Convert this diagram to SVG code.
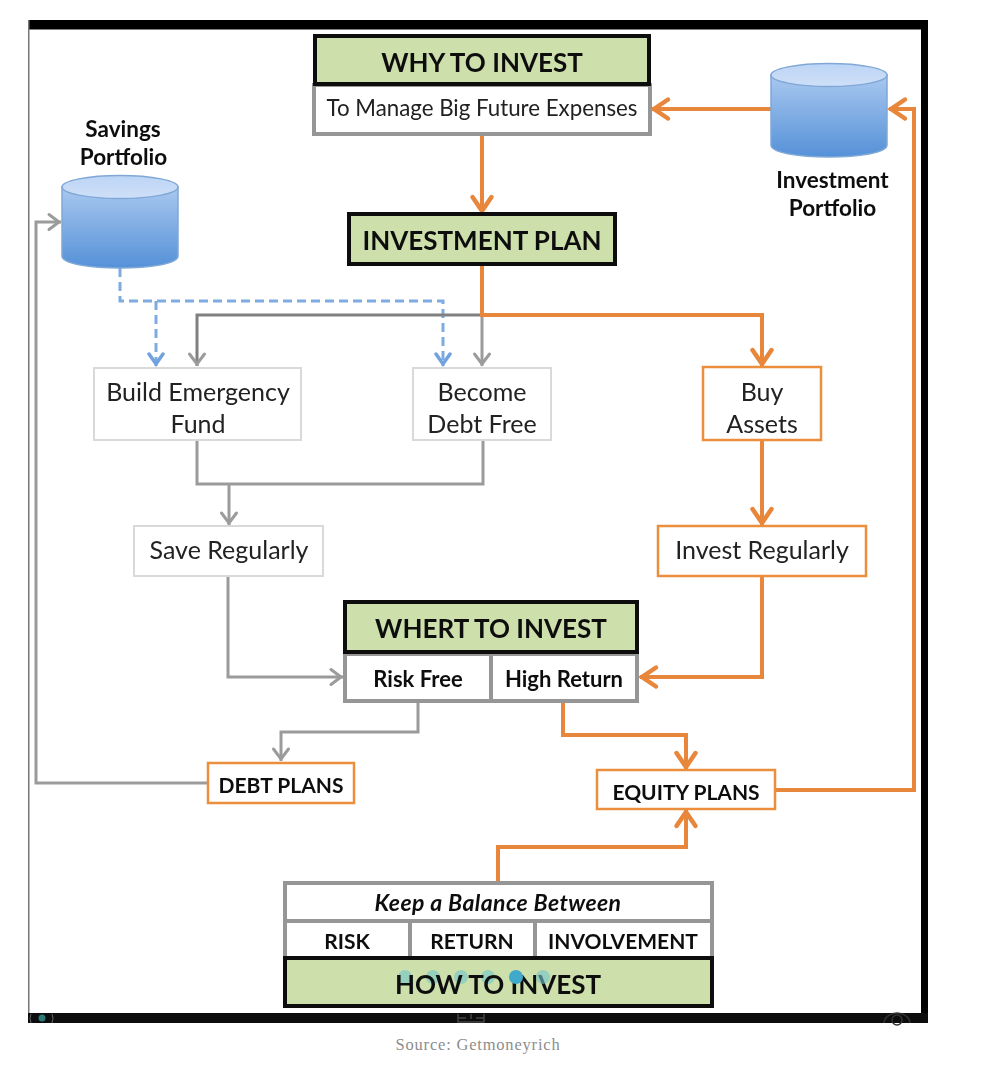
<svg xmlns="http://www.w3.org/2000/svg" width="1005" height="1080" viewBox="0 0 1005 1080">
<style>
text{font-family:Lato,"Open Sans","Liberation Sans",sans-serif;fill:#111;text-anchor:middle}
.h{font-size:26px;font-weight:700}
.b{font-size:21px;font-weight:700}
.b2{font-size:22px;font-weight:700}
.p{font-size:22.500px;font-weight:700}
.i{font-size:23px;font-weight:700;font-style:italic;letter-spacing:.4px}
.r{font-size:25px;fill:#222}
.r2{font-size:22.300px;fill:#222}
.g{fill:#cde0ab;stroke:#0a0a0a;stroke-width:4}
.w{fill:#fff;stroke:#969696;stroke-width:4}
.lg{fill:#fff;stroke:#d9d9d9;stroke-width:2}
.o{fill:#fff;stroke:#ec8f3e;stroke-width:2.500}
.c{fill:none}
.co{stroke:#e8873a;stroke-width:4}
.cg{stroke:#9b9b9b;stroke-width:3}
.cd{stroke:#808080;stroke-width:3}
.cb{stroke:#7fabdf;stroke-width:3;stroke-dasharray:9 5}
.cyl{stroke:#7fa8d6;stroke-width:1.500}
</style>
<defs>
<filter id="soft" filterUnits="userSpaceOnUse" x="0" y="0" width="1005" height="1080"><feGaussianBlur stdDeviation="0.5"/></filter>
<linearGradient id="cylBody" x1="0" y1="0" x2="0" y2="1"><stop offset="0" stop-color="#a9c8ef"/><stop offset="1" stop-color="#5591d8"/></linearGradient>
<linearGradient id="cylTop" x1="0" y1="0" x2="0" y2="1"><stop offset="0" stop-color="#bcd5f5"/><stop offset="1" stop-color="#cfe0f8"/></linearGradient>
<marker id="ao" markerUnits="userSpaceOnUse" markerWidth="26" markerHeight="28" refX="22" refY="14" orient="auto"><path d="M6 4.500L20 14L6 23.500" fill="none" stroke="#e8873a" stroke-width="4.500" stroke-linecap="round"/></marker>
<marker id="ag" markerUnits="userSpaceOnUse" markerWidth="20" markerHeight="24" refX="18" refY="12" orient="auto"><path d="M6 4.500L16 12L6 19.500" fill="none" stroke="#9b9b9b" stroke-width="3" stroke-linecap="round"/></marker>
<marker id="ab" markerUnits="userSpaceOnUse" markerWidth="20" markerHeight="24" refX="18" refY="12" orient="auto"><path d="M6 5L16 12L6 19" fill="none" stroke="#6fa3de" stroke-width="3.500" stroke-linecap="round"/></marker>
</defs>
<rect width="1005" height="1080" fill="#fff"/>
<g id="diagram" filter="url(#soft)">
<g id="frame">
<rect x="28" y="20" width="900" height="9.500" fill="#000"/>
<rect x="921" y="20" width="7" height="1003" fill="#000"/>
<rect x="28" y="20" width="1.500" height="1003" fill="#777"/>
<rect x="28" y="1013" width="900" height="10" fill="#0c0c0c"/>
<ellipse cx="42" cy="1018" rx="3.500" ry="3.500" fill="#2c7a78"/>
<path d="M31 1014Q29 1018 31 1023M52 1014Q54 1018 52 1023" fill="none" stroke="#666" stroke-width="1"/>
<path d="M458 1014V1022H484V1014M466 1018H458M476 1018H484M471 1014V1019" fill="none" stroke="#444" stroke-width="1.500"/>
<circle cx="897" cy="1020" r="5" fill="none" stroke="#333" stroke-width="1.500"/>
<path d="M884 1023Q885 1014 897 1013Q909 1014 910 1023" fill="none" stroke="#333" stroke-width="1.500"/>
</g>
<g id="connectors">
<path class="c co" d="M482 135V213" marker-end="url(#ao)"/>
<path class="c co" d="M771 109H652" marker-end="url(#ao)"/>
<path class="c cb" d="M120 268V301H443V366" marker-end="url(#ab)"/>
<path class="c cb" d="M156 301V366" marker-end="url(#ab)"/>
<path class="c cd" d="M482 315H197V366" marker-end="url(#ag)"/>
<path class="c cg" d="M482 315V366" marker-end="url(#ag)"/>
<path class="c co" d="M482 264V315H762V366" marker-end="url(#ao)"/>
<path class="c cg" d="M197 440V484H483V440"/>
<path class="c cg" d="M229 484V525" marker-end="url(#ag)"/>
<path class="c co" d="M762 440V525" marker-end="url(#ao)"/>
<path class="c cg" d="M228 576V677H343" marker-end="url(#ag)"/>
<path class="c co" d="M762 576V677H640" marker-end="url(#ao)"/>
<path class="c cg" d="M418 702V732H281V761" marker-end="url(#ag)"/>
<path class="c co" d="M563 702V735H686V769" marker-end="url(#ao)"/>
<path class="c cg" d="M208 783H36V222H61" marker-end="url(#ag)"/>
<path class="c co" d="M775 790H914V109H889" marker-end="url(#ao)"/>
<path class="c co" d="M498 882V847H686V810" marker-end="url(#ao)"/>
</g>
<g id="savings-portfolio">
<path class="cyl" d="M62 187V256C62 272 178 272 178 256V187Z" fill="url(#cylBody)"/>
<ellipse class="cyl" cx="120" cy="187" rx="58" ry="11.500" fill="url(#cylTop)"/>
<text class="p" x="123" y="137">Savings</text><text class="p" x="123.500" y="165">Portfolio</text>
</g>
<g id="investment-portfolio">
<path class="cyl" d="M771 75V145C771 161 887 161 887 145V75Z" fill="url(#cylBody)"/>
<ellipse class="cyl" cx="829" cy="75" rx="58" ry="11.500" fill="url(#cylTop)"/>
<text class="p" x="832.500" y="188">Investment</text><text class="p" x="832.500" y="216">Portfolio</text>
</g>
<g id="why-to-invest">
<rect class="w" x="314" y="85" width="336" height="49"/>
<rect class="g" x="315" y="36" width="334" height="48"/>
<text class="h" x="482" y="72">WHY TO INVEST</text>
<text class="r2" x="482" y="116">To Manage Big Future Expenses</text>
</g>
<g id="investment-plan">
<rect class="g" x="349" y="214" width="266" height="50"/>
<text class="h" x="482" y="250">INVESTMENT PLAN</text>
</g>
<g id="build-emergency-fund">
<rect class="lg" x="94" y="368" width="207" height="72"/>
<text class="r" x="198" y="401">Build Emergency</text><text class="r" x="198" y="433">Fund</text>
</g>
<g id="become-debt-free">
<rect class="lg" x="413" y="368" width="138" height="72"/>
<text class="r" x="482" y="401">Become</text><text class="r" x="482" y="433">Debt Free</text>
</g>
<g id="buy-assets">
<rect class="o" x="703" y="367" width="118" height="73"/>
<text class="r" x="762" y="401">Buy</text><text class="r" x="762" y="433">Assets</text>
</g>
<g id="save-regularly">
<rect class="lg" x="134" y="526" width="189" height="50"/>
<text class="r" x="229" y="559">Save Regularly</text>
</g>
<g id="invest-regularly">
<rect class="o" x="658" y="526" width="208" height="50"/>
<text class="r" x="762" y="559">Invest Regularly</text>
</g>
<g id="where-to-invest">
<rect class="w" x="345" y="654" width="147" height="47"/>
<rect class="w" x="491" y="654" width="146" height="47"/>
<rect class="g" x="345" y="602" width="292" height="50"/>
<text class="h" x="491" y="638">WHERT TO INVEST</text>
<text class="b2" x="418" y="687">Risk Free</text>
<text class="b2" x="564" y="687">High Return</text>
</g>
<g id="debt-plans">
<rect class="o" x="208" y="763" width="146" height="40"/>
<text class="b" x="281" y="793">DEBT PLANS</text>
</g>
<g id="equity-plans">
<rect class="o" x="597" y="770" width="178" height="39"/>
<text class="b" x="686" y="800">EQUITY PLANS</text>
</g>
<g id="how-to-invest">
<rect class="w" x="285" y="883" width="427" height="38"/>
<rect class="w" x="285" y="921" width="125" height="38"/>
<rect class="w" x="410" y="921" width="125" height="38"/>
<rect class="w" x="535" y="921" width="177" height="38"/>
<rect class="g" x="285" y="958" width="427" height="48"/>
<text class="i" x="498" y="911">Keep a Balance Between</text>
<text class="b" x="347" y="949">RISK</text>
<text class="b" x="472" y="949">RETURN</text>
<text class="b" x="623" y="949">INVOLVEMENT</text>
<circle cx="405" cy="977" r="7" fill="#6fc3cc" fill-opacity=".6"/>
<circle cx="433" cy="977" r="7" fill="#6fc3cc" fill-opacity=".6"/>
<circle cx="461" cy="977" r="7" fill="#6fc3cc" fill-opacity=".6"/>
<circle cx="488" cy="977" r="7" fill="#6fc3cc" fill-opacity=".6"/>
<text class="h" x="498" y="994">HOW TO INVEST</text>
<circle cx="516" cy="977" r="7" fill="#3fa9c9"/>
<circle cx="543" cy="977" r="7" fill="#6fc3cc" fill-opacity=".6"/>
</g>
</g>
<text id="source" x="478" y="1050" style="font-family:'Liberation Serif',serif;font-size:16.500px;fill:#8d8d8d;letter-spacing:.8px">Source: Getmoneyrich</text>
</svg>
